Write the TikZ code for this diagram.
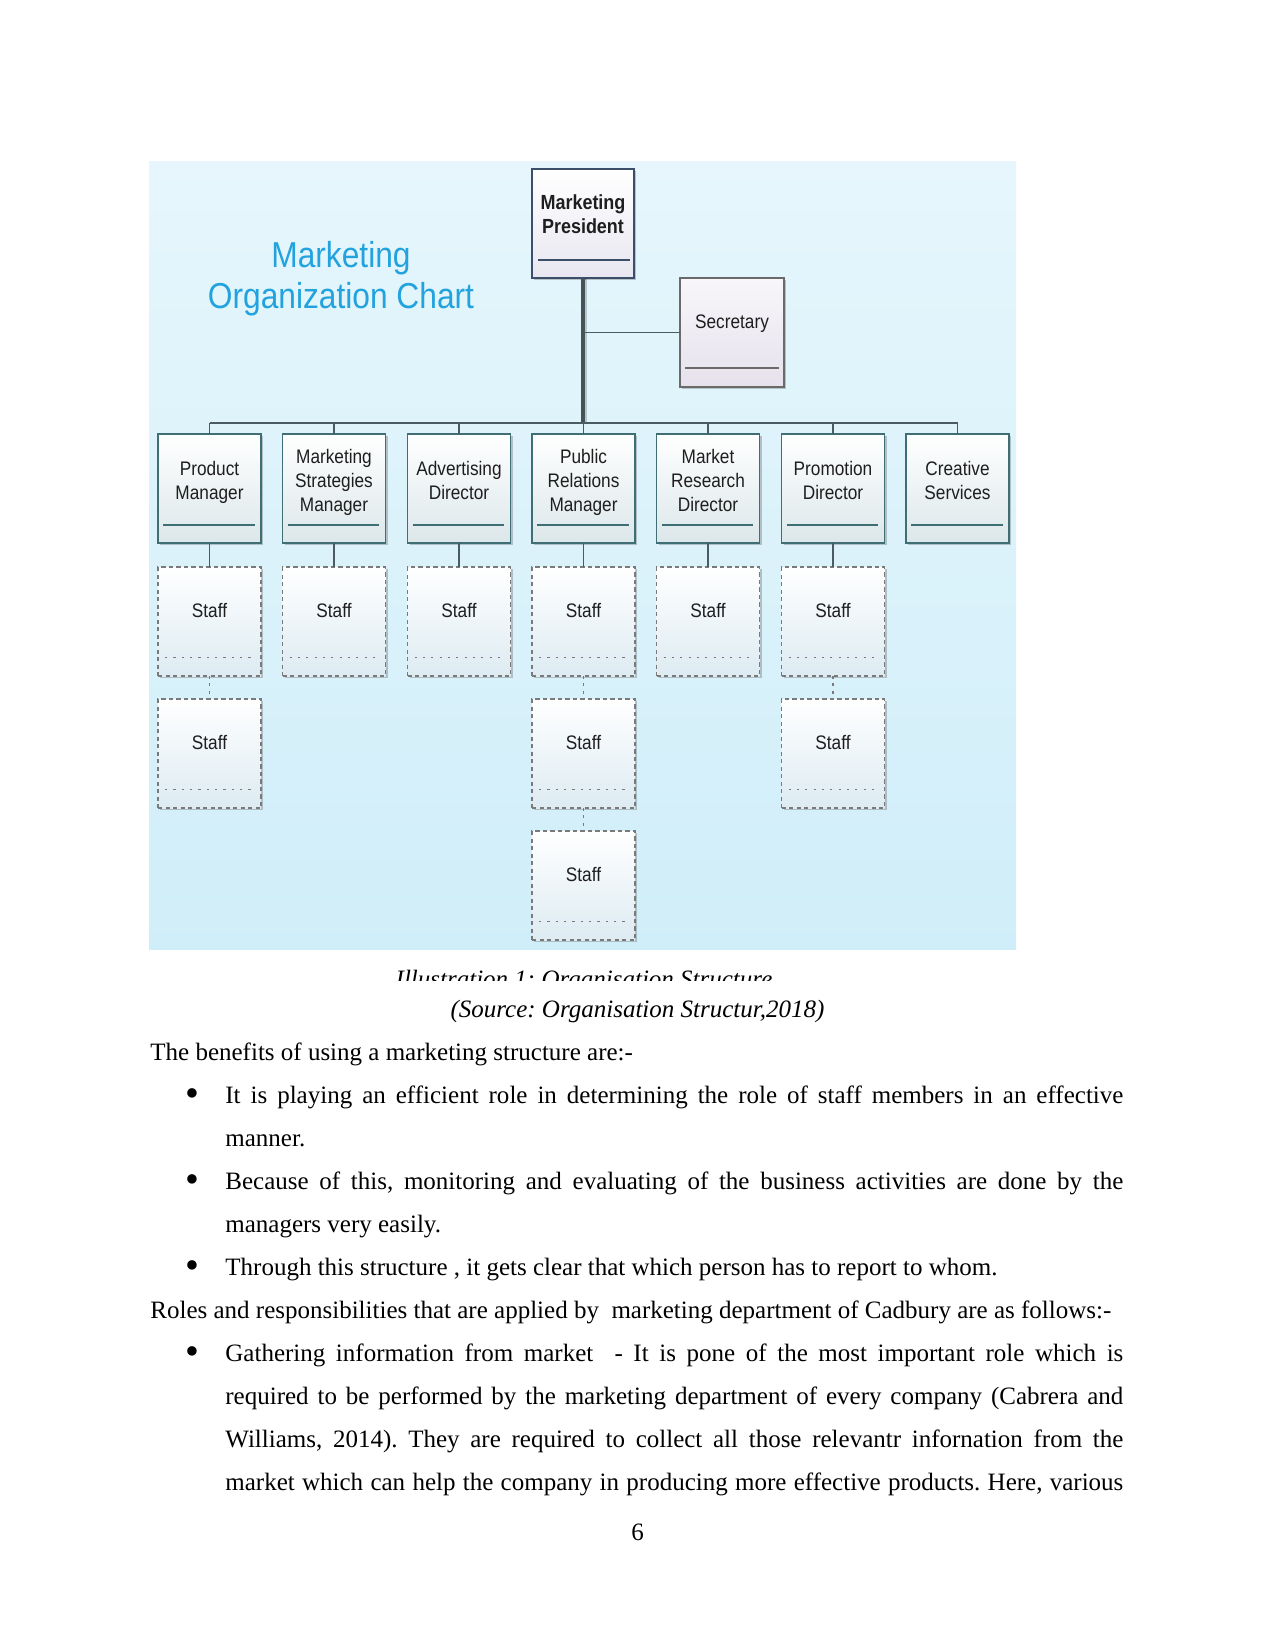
\documentclass[tikz,border=0pt]{standalone}
\usepackage{fontspec}
\setmainfont{Liberation Serif}
\newfontfamily\chartfont[FakeStretch=0.88]{Liberation Sans}
\usetikzlibrary{shadows}
\definecolor{bgtop}{HTML}{E6F6FC}
\definecolor{bgbot}{HTML}{D0EEF9}
\definecolor{mgrborder}{HTML}{3F6E74}
\definecolor{mgrbot}{HTML}{DCE7EA}
\definecolor{presborder}{HTML}{3B4F6B}
\definecolor{presbot}{HTML}{E8E6F0}
\definecolor{secborder}{HTML}{6A6A6A}
\definecolor{sectop}{HTML}{F8F6FA}
\definecolor{secbot}{HTML}{E6E1EC}
\definecolor{staffborder}{HTML}{7A7A7A}
\definecolor{staffbot}{HTML}{DDEBF2}
\definecolor{connc}{HTML}{4A5C62}
\definecolor{titleblue}{HTML}{22A3DD}
\definecolor{boxtxt}{HTML}{1E1E1E}
\tikzset{
  shadowed/.style={drop shadow={shadow xshift=1pt, shadow yshift=-1pt, opacity=0.3, fill=black!70}},
  mgrbox/.style={rectangle, draw=mgrborder, line width=0.75pt, top color=white, bottom color=mgrbot,
    minimum width=49.44pt, minimum height=52.32pt, inner sep=0pt, outer sep=0pt, shadowed},
  presbox/.style={rectangle, draw=presborder, line width=1.2pt, top color=white, bottom color=presbot,
    minimum width=48.96pt, minimum height=52.32pt, inner sep=0pt, outer sep=0pt, shadowed},
  secbox/.style={rectangle, draw=secborder, line width=0.6pt, top color=sectop, bottom color=secbot,
    minimum width=49.92pt, minimum height=52.32pt, inner sep=0pt, outer sep=0pt, shadowed},
  staffbox/.style={rectangle, draw=staffborder, line width=0.5pt, dash pattern=on 2pt off 1.6pt,
    top color=white, bottom color=staffbot,
    minimum width=49.44pt, minimum height=52.32pt, inner sep=0pt, outer sep=0pt, shadowed},
  mline/.style={draw=mgrborder, line width=0.75pt},
  pline/.style={draw=presborder, line width=1.2pt},
  secline/.style={draw=secborder, line width=0.6pt},
  sline/.style={draw=staffborder, line width=0.5pt, dash pattern=on 1pt off 3pt},
  conn/.style={draw=connc, line width=0.7pt},
  thickconn/.style={draw=connc!90!black, line width=1.5pt},
  dconn/.style={draw=staffborder, line width=0.5pt, dash pattern=on 1.5pt off 2pt},
  btext/.style={font=\chartfont\fontsize{9.4}{11}\selectfont, text=boxtxt, inner sep=0pt, anchor=base},
  ptext/.style={font=\chartfont\bfseries\fontsize{9.8}{11}\selectfont, text=boxtxt, inner sep=0pt, anchor=base},
  titletext/.style={font=\chartfont\fontsize{17.3}{20}\selectfont, text=titleblue, inner sep=0pt, anchor=base},
  body/.style={font=\frenchspacing\fontsize{12}{14}\selectfont, text=black, inner sep=0pt, anchor=base west},
  captext/.style={font=\frenchspacing\itshape\fontsize{12}{14}\selectfont, text=black, inner sep=0pt, anchor=base},
  bul/.style={font=\fontsize{19}{19}\selectfont, text=black, inner sep=0pt, anchor=base},
}
% manager box: name, x, number of lines, lines
\newcommand\mkmgr[4]{%
  \node[mgrbox] (#1) at (#2,488.5) {};
  \draw[mline] ([xshift=2.4pt,yshift=8.64pt]#1.south west) -- ([xshift=-3pt,yshift=8.64pt]#1.south east);
  \foreach \t [count=\k] in {#4} {\node[btext] (#1-\k) at (#2,{480+(\k-(#3+1)/2)*24+7}) {\t};}
}
% staff box: name, x, row
\newcommand\mkstaff[3]{%
  \node[staffbox] (#1) at (#2,{621.5+132*(#3-1)}) {};
  \draw[sline] ([xshift=3.4pt,yshift=9.1pt]#1.south west) -- ([xshift=-3.4pt,yshift=9.1pt]#1.south east);
  \node[btext] (#1-t) at (#2,{617+132*(#3-1)}) {Staff};
}
\begin{document}
\frenchspacing
\begin{tikzpicture}[x=0.48pt,y=-0.48pt]
\useasboundingbox (0,0) rectangle (1275,1650);
\fill[white] (0,0) rectangle (1275,1650);
% chart background
\shade[top color=bgtop, bottom color=bgbot] (149,162) rectangle (1016,949);

% title
\node[titletext] (title1) at (341,268) {Marketing};
\node[titletext] (title2) at (341,309) {Organization Chart};

% bus coordinate
\coordinate (bus) at (583.5,423);

% president
\node[presbox] (pres) at (583,223.5) {};
\draw[pline] ([xshift=2.9pt,yshift=8.64pt]pres.south west) -- ([xshift=-2pt,yshift=8.64pt]pres.south east);
\node[ptext] (pres-1) at (583,210) {Marketing};
\node[ptext] (pres-2) at (583,234) {President};

% secretary
\node[secbox] (sec) at (732,332.5) {};
\draw[secline] ([xshift=2.4pt,yshift=9.1pt]sec.south west) -- ([xshift=-2.4pt,yshift=9.1pt]sec.south east);
\node[btext] (sec-1) at (732,329) {Secretary};

% managers
\mkmgr{m1}{209.5}{2}{Product,Manager}
\mkmgr{m2}{334}{3}{Marketing,Strategies,Manager}
\mkmgr{m3}{459}{2}{Advertising,Director}
\mkmgr{m4}{583.5}{3}{Public,Relations,Manager}
\mkmgr{m5}{708}{3}{Market,Research,Director}
\mkmgr{m6}{833}{2}{Promotion,Director}
\mkmgr{m7}{957.5}{2}{Creative,Services}

% staff
\mkstaff{s11}{209.5}{1}
\mkstaff{s12}{209.5}{2}
\mkstaff{s21}{334}{1}
\mkstaff{s31}{459}{1}
\mkstaff{s41}{583.5}{1}
\mkstaff{s42}{583.5}{2}
\mkstaff{s43}{583.5}{3}
\mkstaff{s51}{708}{1}
\mkstaff{s61}{833}{1}
\mkstaff{s62}{833}{2}

% connectors
\draw[draw=black, opacity=0.18, line width=1.2pt] ([xshift=1.4pt]pres.south) -- ([xshift=1.4pt]pres.south |- bus);
\draw[thickconn] (pres.south) -- (pres.south |- bus);
\draw[conn] (sec.west) -- (sec.west -| pres.south);
\draw[conn] (m1.north |- bus) -- (m7.north |- bus);
\foreach \m in {m1,m2,m3,m4,m5,m6,m7} {\draw[conn] (\m.north) -- (\m.north |- bus);}
\draw[conn] (m1.south) -- (s11.north);
\draw[conn] (m2.south) -- (s21.north);
\draw[conn] (m3.south) -- (s31.north);
\draw[conn] (m4.south) -- (s41.north);
\draw[conn] (m5.south) -- (s51.north);
\draw[conn] (m6.south) -- (s61.north);
\draw[dconn] (s11.south) -- (s12.north);
\draw[dconn] (s41.south) -- (s42.north);
\draw[dconn] (s42.south) -- (s43.north);
\draw[dconn] (s61.south) -- (s62.north);

% caption (clipped)
\begin{scope}
\clip (149,950) rectangle (1016,980);
\node[captext] (caption) at (584,987) {Illustration 1: Organisation Structure};
\end{scope}
\node[captext] (source) at (637.5,1017) {(Source: Organisation Structur,2018)};

% body text
\node[body] (l1) at (150,1060) {The benefits of using a marketing structure are:-};
\node[bul] (b1) at (192,1106) {•};
\node[body] (l2) at (225,1103) {\makebox[431pt][s]{It is playing an efficient role in determining the role of staff members in an effective}};
\node[body] (l3) at (225,1146) {manner.};
\node[bul] (b2) at (192,1192) {•};
\node[body] (l4) at (225,1189) {\makebox[431pt][s]{Because of this, monitoring and evaluating of the business activities are done by the}};
\node[body] (l5) at (225,1232) {managers very easily.};
\node[bul] (b3) at (192,1278) {•};
\node[body] (l6) at (225,1275) {Through this structure , it gets clear that which person has to report to whom.};
\node[body] (l7) at (150,1318) {Roles and responsibilities that are applied by\ \ marketing department of Cadbury are as follows:-};
\node[bul] (b4) at (192,1364) {•};
\node[body] (l8) at (225,1361) {\makebox[431pt][s]{Gathering information from market\ \ - It is pone of the most important role which is}};
\node[body] (l9) at (225,1404) {\makebox[431pt][s]{required to be performed by the marketing department of every company (Cabrera and}};
\node[body] (l10) at (225,1447) {\makebox[431pt][s]{Williams, 2014). They are required to collect all those relevantr infornation from the}};
\node[body] (l11) at (225,1490) {\makebox[431pt][s]{market which can help the company in producing more effective products. Here, various}};
\node[body, anchor=base] (pnum) at (637.5,1540) {6};
\end{tikzpicture}
\end{document}
